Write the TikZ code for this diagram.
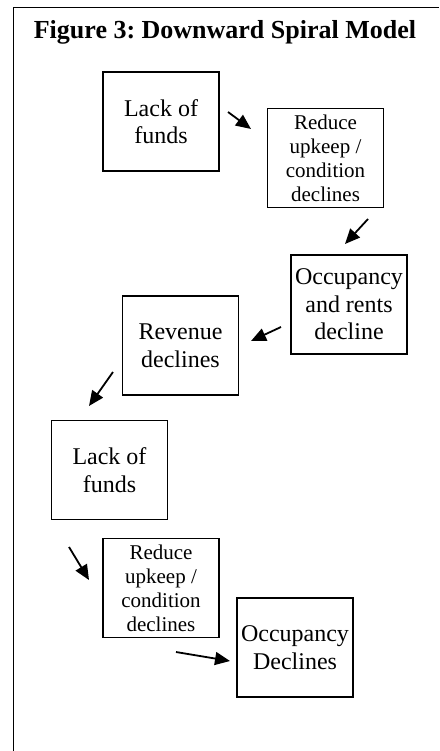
\documentclass[tikz,border=0pt]{standalone}
\usepackage{fontspec}
\setmainfont{Liberation Serif}
\usetikzlibrary{arrows.meta}
\frenchspacing
\begin{document}
\begin{tikzpicture}[x=1pt,y=-1pt,
  box/.style={draw,line width=1.8pt,minimum width=116pt,minimum height=99pt,
    inner sep=0pt,align=center,font=\fontsize{24}{27.6}\selectfont},
  smallbox/.style={box,font=\fontsize{21}{24}\selectfont},
  arr/.style={line width=1.8pt,-{Triangle[length=15pt,width=13pt]}},
  frame/.style={line width=1.8pt}]
\useasboundingbox (0,0) rectangle (439,751);
% frame
\coordinate (fbl) at (13.5,751);
\coordinate (ftl) at (13.5,7.5);
\coordinate (ftr) at (439,7.5);
\draw[frame] (fbl) -- (ftl) -- (ftr);
% title
\node[anchor=base,inner sep=0pt,font=\bfseries\fontsize{26}{30}\selectfont] (title) at (225,39) {Figure 3: Downward Spiral Model};
% boxes
\node[box] (b1) at (161,121.5) {Lack of\\funds};
\node[smallbox] (b2) at (325.5,158) {Reduce\\upkeep /\\condition\\declines};
\node[box] (b3) at (349,304.5) {Occupancy\\and rents\\decline};
\node[box] (b4) at (180.5,345.5) {Revenue\\declines};
\node[box] (b5) at (109.5,470) {Lack of\\funds};
\node[smallbox] (b6) at (161,588) {Reduce\\upkeep /\\condition\\declines};
\node[box] (b7) at (295,647.5) {Occupancy\\Declines};
% arrows
\coordinate (a1s) at (228,112); \coordinate (a1e) at (251,129);
\coordinate (a2s) at (368,219); \coordinate (a2e) at (345,244);
\coordinate (a3s) at (281,327); \coordinate (a3e) at (251,341);
\coordinate (a4s) at (113,372); \coordinate (a4e) at (89,406);
\coordinate (a5s) at (69,547);  \coordinate (a5e) at (89,580);
\coordinate (a6s) at (176,652); \coordinate (a6e) at (230,661);
\draw[arr] (a1s) -- (a1e);
\draw[arr] (a2s) -- (a2e);
\draw[arr] (a3s) -- (a3e);
\draw[arr] (a4s) -- (a4e);
\draw[arr] (a5s) -- (a5e);
\draw[arr] (a6s) -- (a6e);
\end{tikzpicture}
\end{document}
